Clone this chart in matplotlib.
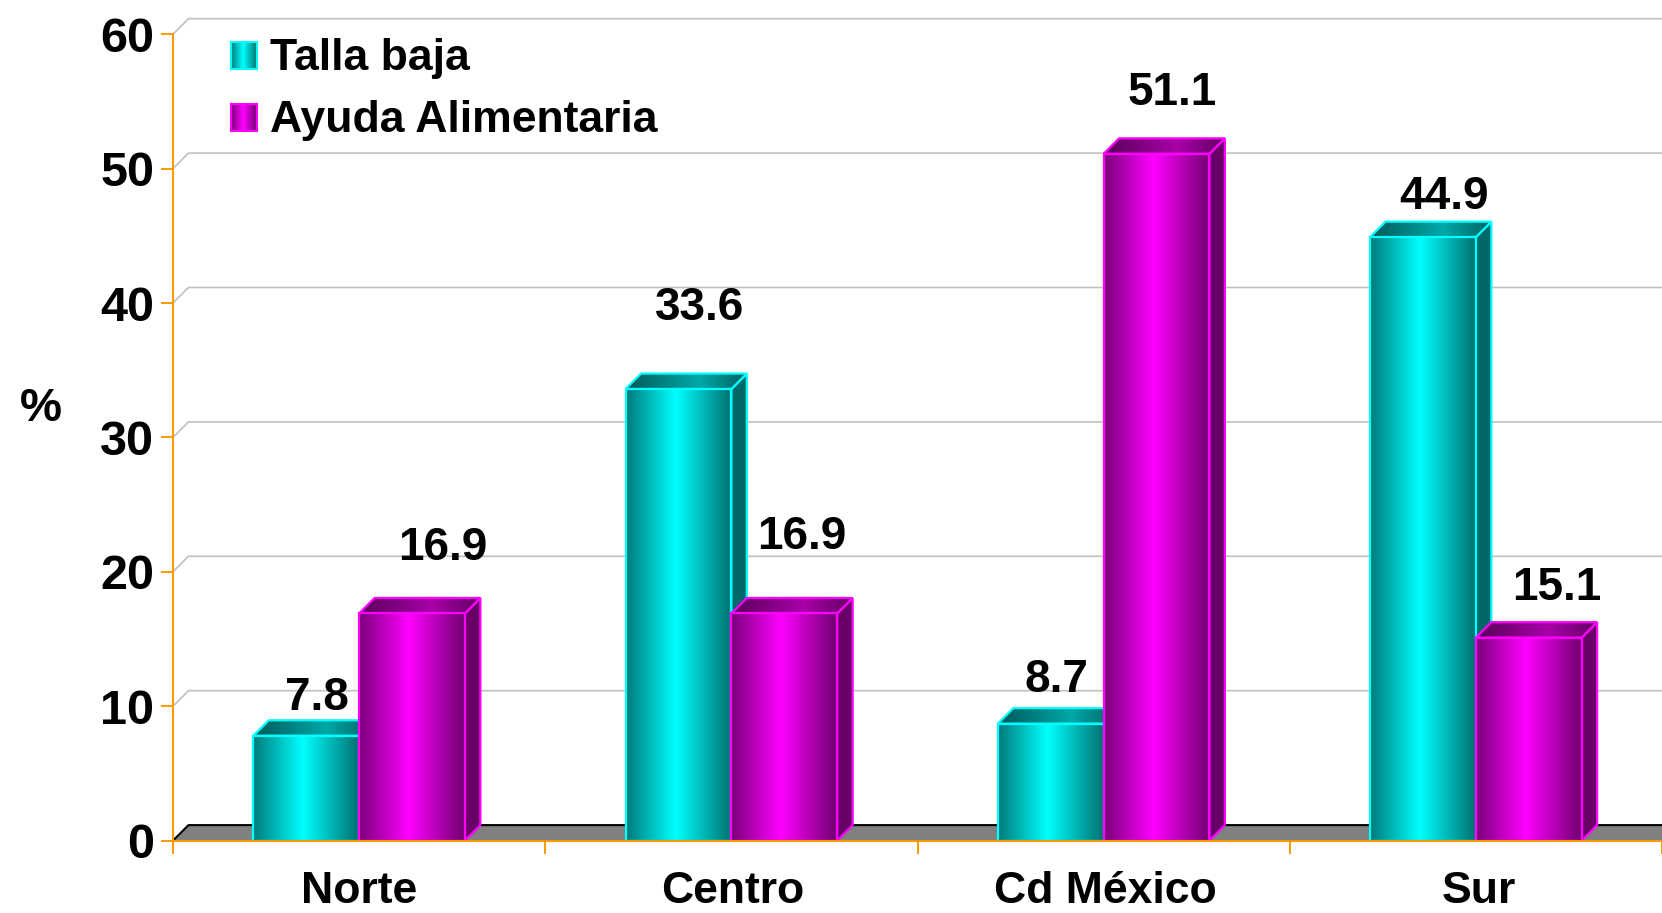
import numpy as np
import matplotlib
matplotlib.use("Agg")
import matplotlib.pyplot as plt
from matplotlib.colors import LinearSegmentedColormap
from matplotlib.patches import Polygon, Rectangle

# ---- data -------------------------------------------------------------
regions = ["Norte", "Centro", "Cd México", "Sur"]
talla_baja = [7.8, 33.6, 8.7, 44.9]
ayuda_alimentaria = [16.9, 16.9, 51.1, 15.1]
series_names = ["Talla baja", "Ayuda Alimentaria"]
y_ticks = [0, 10, 20, 30, 40, 50, 60]

# value-label nudges in pixels (right, up) from the top of each bar's front face
label_nudge = [[(11, 38), (31, 65)],
               [(21, 81), (17, 76)],
               [(6, 44), (16, 61)],
               [(21, 40), (28, 50)]]

# ---- layout -----------------------------------------------------------
W, H, DPI = 1662, 913, 100
X0_PX, Y0_PX = 173, 840.6          # plot origin in pixels (from top-left)
PX_PER_CAT, PX_PER_UNIT = 373.0, 13.44
DEPTH_PX = 15.5
DX, DY = DEPTH_PX / PX_PER_CAT, DEPTH_PX / PX_PER_UNIT
BW = 106.0 / PX_PER_CAT
YTOP = 61.6
XMAX = (W - X0_PX) / PX_PER_CAT

ORANGE = "#ff9900"
FONT = "Liberation Sans"
plt.rcParams["font.family"] = [FONT, "DejaVu Sans"]

styles = {
    "teal": dict(front=LinearSegmentedColormap.from_list(
                     "tf", [(0, "#007a7a"), (0.47, "#00ffff"), (1, "#007070")]),
                 top=LinearSegmentedColormap.from_list(
                     "tt", [(0, "#005858"), (0.6, "#00a8a8"), (1, "#006060")]),
                 side="#006868", edge="#00ffff"),
    "magenta": dict(front=LinearSegmentedColormap.from_list(
                     "mf", [(0, "#7a007a"), (0.47, "#ff00ff"), (1, "#700070")]),
                    top=LinearSegmentedColormap.from_list(
                     "mt", [(0, "#580058"), (0.6, "#a800a8"), (1, "#600060")]),
                    side="#680068", edge="#ff00ff"),
}
grad = np.linspace(0, 1, 256).reshape(1, -1)

fig = plt.figure(figsize=(W / DPI, H / DPI), dpi=DPI)
ax = fig.add_axes([X0_PX / W, (H - Y0_PX) / H, (W - X0_PX) / W,
                   YTOP * PX_PER_UNIT / H])


def draw_bar(x0, h, style, z):
    st = styles[style]
    x1 = x0 + BW
    # right side face
    ax.add_patch(Polygon([(x1, 0), (x1 + DX, DY), (x1 + DX, h + DY), (x1, h)],
                         closed=True, fc=st["side"], ec=st["edge"], lw=1.6,
                         zorder=z))
    # top face with gradient
    top_pts = [(x0, h), (x1, h), (x1 + DX, h + DY), (x0 + DX, h + DY)]
    clip = Polygon(top_pts, closed=True, transform=ax.transData)
    im = ax.imshow(grad, extent=[x0, x1 + DX, h, h + DY], cmap=st["top"],
                   aspect="auto", interpolation="bilinear", zorder=z + 0.01)
    im.set_clip_path(clip)
    ax.add_patch(Polygon(top_pts, closed=True, fc="none", ec=st["edge"],
                         lw=1.6, zorder=z + 0.02))
    # front face with gradient
    ax.imshow(grad, extent=[x0, x1, 0, h], cmap=st["front"], aspect="auto",
              interpolation="bilinear", zorder=z + 0.03)
    ax.add_patch(Rectangle((x0, 0), BW, h, fc="none", ec=st["edge"], lw=1.6,
                           zorder=z + 0.04))


# back-wall gridlines
for y in y_ticks[1:]:
    ax.plot([0, DX, XMAX + 1], [y, y + DY, y + DY], color="#c0c0c0", lw=1.2,
            zorder=1, solid_capstyle="butt")

# floor
ax.add_patch(Polygon([(0, 0), (XMAX + 1, 0), (XMAX + 1, DY), (DX, DY)],
                     closed=True, fc="#808080", ec="none", zorder=1.5))
ax.plot([0, DX, XMAX + 1], [0, DY, DY], color="black", lw=1.5, zorder=1.6)

# bars and value labels
for i, (tb, aa) in enumerate(zip(talla_baja, ayuda_alimentaria)):
    center = i + 0.5
    for j, (val, style) in enumerate(((tb, "teal"), (aa, "magenta"))):
        x0 = center - BW if j == 0 else center
        draw_bar(x0, val, style, 3 + (2 * i + j) * 0.1)
        nx, ny = label_nudge[i][j]
        ax.annotate(f"{val:.1f}", xy=(x0 + BW / 2, val), xytext=(nx, ny),
                    textcoords="offset pixels", ha="center", va="center",
                    fontsize=33, fontweight="bold", color="black", zorder=20)

ax.set_xlim(0, XMAX)
ax.set_ylim(0, YTOP)

# axes styling
for side in ("top", "right"):
    ax.spines[side].set_visible(False)
ax.spines["left"].set_bounds(0, 60)
for side in ("left", "bottom"):
    ax.spines[side].set_color(ORANGE)
    ax.spines[side].set_linewidth(1.5)
    ax.spines[side].set_zorder(15)

ax.set_yticks(y_ticks)
ax.set_yticklabels([str(t) for t in y_ticks], fontsize=35, fontweight="bold")
ax.tick_params(axis="y", length=8.6, width=1.4, color=ORANGE, pad=5)
ax.set_xticks(range(len(regions) + 1))
ax.set_xticklabels([""] * (len(regions) + 1))
ax.tick_params(axis="x", length=9.5, width=1.4, color=ORANGE)

for i, name in enumerate(regions):
    fig.text((X0_PX + (i + 0.5) * PX_PER_CAT) / W, (H - 903) / H, name,
             ha="center", va="baseline", fontsize=32, fontweight="bold")

fig.text(41 / W, 1 - 409 / H, "%", ha="center", va="center", fontsize=34,
         fontweight="bold")

# legend
for k, (name, style) in enumerate(zip(series_names, ("teal", "magenta"))):
    top_px = 42 + k * 62
    lax = fig.add_axes([231 / W, 1 - (top_px + 27) / H, 26 / W, 27 / H])
    lax.imshow(grad, extent=[0, 1, 0, 1], cmap=styles[style]["front"],
               aspect="auto", interpolation="bilinear")
    lax.set_xticks([])
    lax.set_yticks([])
    for s in lax.spines.values():
        s.set_color(styles[style]["edge"])
        s.set_linewidth(1.5)
    fig.text(270 / W, 1 - (top_px + 16.5) / H, name, ha="left", va="center",
             fontsize=32, fontweight="bold")

fig.savefig("out.png", dpi=DPI)
